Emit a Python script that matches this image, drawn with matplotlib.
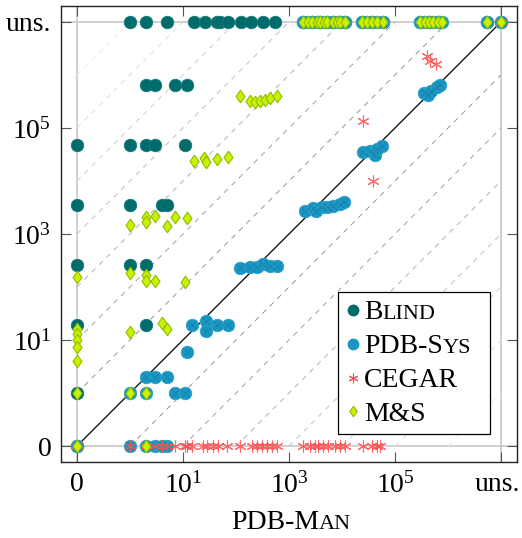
import matplotlib.pyplot as plt
import matplotlib.transforms as mtransforms
from matplotlib.lines import Line2D
from matplotlib.path import Path
from matplotlib.ticker import NullLocator
from matplotlib.offsetbox import (TextArea, HPacker, VPacker, DrawingArea,
                                  AnchoredOffsetbox)

plt.rcParams['font.family'] = 'serif'
plt.rcParams['font.serif'] = ['Liberation Serif']
plt.rcParams['mathtext.fontset'] = 'custom'
plt.rcParams['mathtext.rm'] = 'Liberation Serif'

# positions used for "0" and "uns." (unsolved) on both axes
ZERO = 0.1
UNS = 1e7

# x positions of the unsolved row that the M&S diamonds cover
uns_cols = [1840, 2280, 2720, 3370, 3850, 4570, 5210, 6760, 8050, 9170, 11400,
            23800, 29600, 36800, 45700, 59400,
            296000, 368000, 438000, 521000, 648000, 771000, 5.4e6, UNS]

# Blind: (y, [x values])
blind_rows = [
    (UNS, [1, 2, 5, 16, 26, 44, 50, 71, 124, 192, 323, 547,
           1840, 2720, 3850, 5210, 6760, 9170, 11400, 23800, 36800, 59400,
           296000, 438000, 648000, 5.4e6, UNS]),
    (6.5e5, [2, 3, 7, 12]),
    (4.8e4, [ZERO, 1, 2, 3, 11]),
    (3500, [ZERO, 1, 4, 5]),
    (260, [ZERO, 1, 2]),
    (19, [ZERO, 2]),
    (1, [ZERO]),
    (ZERO, [ZERO]),
]

# PDB-Sys
pdbsys_x = [ZERO, 1, 2, 3, 4, 5,
            1, 2, 7, 11,
            2, 3, 5,
            12,
            15, 27, 27, 44, 71,
            119, 184, 249, 323, 438, 595,
            2000, 2840, 3230, 4200, 5210, 6760, 9170, 10900,
            24900, 33700, 42000, 45700, 56900,
            352000, 420000, 478000, 620000, 706000]
pdbsys_y = [ZERO, ZERO, ZERO, ZERO, ZERO, ZERO,
            1, 1, 1, 1,
            2, 2, 2,
            6,
            19, 23, 15, 19, 19,
            228, 238, 238, 272, 249, 249,
            2720, 3100, 2720, 3230, 3230, 3370, 3680, 4020,
            35200, 36800, 31000, 40200, 45700,
            457000, 420000, 499000, 594000, 648000]

# CEGAR
cegar_zero_row = [ZERO, 1, 2, 3, 4, 5, 7, 11, 12, 15, 24, 28, 37, 46, 68,
                  119, 200, 249, 310, 385, 478, 594,
                  1840, 2490, 3100, 3520, 4380, 5450, 7380, 9170, 11400,
                  24900, 36800, 45700, 52100]
cegar_x = [24900, 38500, 402000, 457000, 594000, UNS]
cegar_y = [135000, 10000, 2.28e6, 1.84e6, 1.61e6, UNS]

# M&S
ms_x = [119, 184, 228, 284, 352, 438, 595,
        16, 25, 27, 44, 71,
        1, 2, 2, 3, 5, 7, 12,
        ZERO, 1, 2, 2, 3, 11,
        1, 4, 5,
        ZERO, ZERO, ZERO, ZERO, ZERO,
        ZERO, 1, 2,
        ZERO, 2]
ms_y = [402000, 323000, 310000, 323000, 337000, 368000, 402000,
        23800, 27200, 22800, 26000, 28400,
        1480, 2090, 1680, 2190, 1420, 2090, 2000,
        155, 184, 168, 130, 130, 124,
        14, 21, 16,
        16, 13, 10, 7.4, 4,
        1, 1, 1,
        ZERO, ZERO]

c_blind = '#006b6b'
c_sys = '#1a96c3'
c_cegar = '#ff4f4f'
c_ms = '#cdf000'
c_ms_edge = '#8cbf00'

diamond = Path([(0, 1), (0.72, 0), (0, -1), (-0.72, 0), (0, 1)],
               [Path.MOVETO, Path.LINETO, Path.LINETO, Path.LINETO,
                Path.CLOSEPOLY])
star = (6, 2, 0)

fig = plt.figure(figsize=(5.22, 5.38), dpi=100)
ax = fig.add_axes([0.1169, 0.1413, 0.8735, 0.8476])
ax.set_xscale('log')
ax.set_yscale('log')
lo, hi = 10 ** -1.3, 10 ** 7.3
ax.set_xlim(lo, hi)
ax.set_ylim(lo, hi)

# grid lines at 0 and uns.
for v in (ZERO, UNS):
    ax.axvline(v, color='#c8c8c8', lw=1.2, zorder=1)
    ax.axhline(v, color='#c8c8c8', lw=1.2, zorder=1)

# dashed factor lines, lighter further from the diagonal
for k in range(1, 8):
    g = str(0.6 + 0.055 * (k - 1))
    f = 10 ** k
    ax.plot([ZERO, UNS / f], [ZERO * f, UNS], color=g, lw=0.75,
            dashes=(5, 5), zorder=1)
    ax.plot([ZERO * f, UNS], [ZERO, UNS / f], color=g, lw=0.75,
            dashes=(5, 5), zorder=1)
ax.plot([ZERO, UNS], [ZERO, UNS], color='black', lw=0.9, zorder=2)

# series
blind_x = [x for y, xs in blind_rows for x in xs]
blind_y = [y for y, xs in blind_rows for x in xs]
ax.plot(blind_x, blind_y, 'o', ms=9, color=c_blind, mec='#157a7a',
        mew=0.6, zorder=3)

sys_x = pdbsys_x + uns_cols
sys_y = pdbsys_y + [UNS] * len(uns_cols)
ax.plot(sys_x, sys_y, 'o', ms=9, color=c_sys, mec='#2aa0ca', mew=0.6,
        zorder=4)
ax.plot(sys_x, sys_y, 'x', ms=5.5, color='#1582ad', mew=0.6, zorder=4)

cx = cegar_zero_row + cegar_x
cy = [ZERO] * len(cegar_zero_row) + cegar_y
ax.plot(cx, cy, marker=star, ls='none', ms=8.5, color=c_cegar, mew=0.8,
        alpha=0.85, zorder=5)

mx = ms_x + uns_cols
my = ms_y + [UNS] * len(uns_cols)
ax.plot(mx, my, marker=diamond, ls='none', ms=9, color=c_ms, mec=c_ms_edge,
        mew=0.8, zorder=6)

# ticks
ticks = [ZERO, 10, 1e3, 1e5, UNS]
labels = ['0', r'$\mathregular{10^{1}}$', r'$\mathregular{10^{3}}$',
          r'$\mathregular{10^{5}}$', 'uns.']
ax.set_xticks(ticks)
ax.set_xticklabels(labels)
ax.set_yticks(ticks)
ax.set_yticklabels(labels)
ax.xaxis.set_minor_locator(NullLocator())
ax.yaxis.set_minor_locator(NullLocator())
ax.tick_params(which='major', direction='in', length=7.5, width=0.8,
               color='#555555', top=True, right=True, labelsize=20, pad=7)
# keep the last x label inside the picture
last = ax.get_xticklabels()[-1]
last.set_transform(last.get_transform() +
                   mtransforms.ScaledTranslation(-3 / 72, 0,
                                                 fig.dpi_scale_trans))
for s in ax.spines.values():
    s.set_linewidth(1.0)
    s.set_color('#222222')


def small_caps(parts, big=20, small=16):
    boxes = [TextArea(t, textprops=dict(fontsize=big if i % 2 == 0 else small))
             for i, t in enumerate(parts)]
    return HPacker(children=boxes, align='baseline', pad=0, sep=0)


def marker_box(**kw):
    da = DrawingArea(10, 14, 0, 0)
    da.add_artist(Line2D([5], [6.6], ls='none', **kw))
    return da


entries = [
    (marker_box(marker='o', ms=7.5, color=c_blind), ['B', 'LIND']),
    (marker_box(marker='o', ms=7.5, color=c_sys), ['PDB-S', 'YS']),
    (marker_box(marker=star, ms=7, color=c_cegar, mew=0.8), ['CEGAR']),
    (marker_box(marker=diamond, ms=7.5, color=c_ms, mec=c_ms_edge, mew=0.8),
     ['M&S']),
]
rows = []
for m, p in entries:
    kids = [m, small_caps(p)]
    if p[0] == 'PDB-S':
        kids.append(DrawingArea(5, 1, 0, 0))   # extra room on the right
    rows.append(HPacker(children=kids, align='baseline', pad=0, sep=3))
legend = AnchoredOffsetbox(loc='lower right',
                           child=VPacker(children=rows, align='left', pad=0,
                                         sep=6),
                           pad=0.55, borderpad=0, frameon=True,
                           bbox_to_anchor=(0.941, 0.061),
                           bbox_transform=ax.transAxes)
legend.patch.set_edgecolor('black')
legend.patch.set_linewidth(0.9)
legend.zorder = 10
ax.add_artist(legend)

xlabel = AnchoredOffsetbox(loc='upper center', child=small_caps(['PDB-M', 'AN']),
                           pad=0, borderpad=0, frameon=False,
                           bbox_to_anchor=(0.505, -0.106),
                           bbox_transform=ax.transAxes)
ax.add_artist(xlabel)

fig.savefig('out.png', dpi=100)
